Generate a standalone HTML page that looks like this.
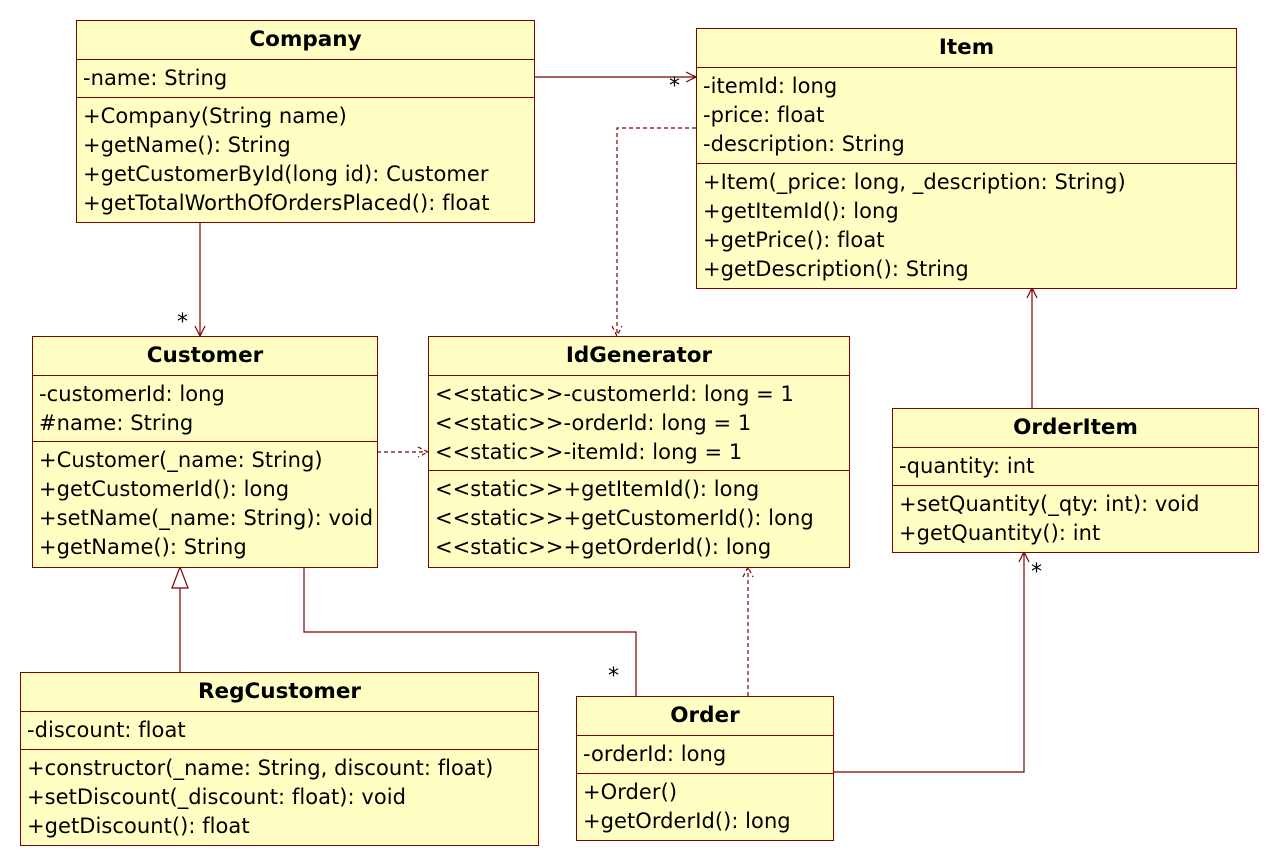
<!DOCTYPE html>
<html><head><meta charset="utf-8"><style>
body{margin:0;width:1279px;height:866px;background:#fff;position:relative;font-family:"DejaVu Sans","Liberation Sans",sans-serif;overflow:hidden}
.b{position:absolute;background:#ffffc4;border:1px solid #800000;box-sizing:border-box}
.h{border-bottom:1px solid #800000;height:38px;line-height:38px;text-align:center;font-weight:bold;font-size:21.5px}
.s{border-bottom:1px solid #800000;padding:0 6px;box-sizing:border-box}
.s:last-child{border-bottom:none}
.s div{height:29px;line-height:29px;font-size:21px;white-space:nowrap;letter-spacing:0.05px}
svg{position:absolute;left:0;top:0}
.st{position:absolute;font-size:22px}
</style></head><body>
<svg width="1279" height="866" fill="none" stroke="#800000" stroke-width="1.2">
<path d="M534 77H696M686 72L696 77L686 82"/>
<path d="M696 128H617V336M612 326L617 336L622 326" stroke-dasharray="4,3"/>
<path d="M200 222V336M195 326L200 336L205 326"/>
<path d="M377 452H428M418 447L428 452L418 457" stroke-dasharray="4,3"/>
<path d="M1032 408V288M1027 298L1032 288L1037 298"/>
<path d="M180 672V588M172 588L180 567L188 588Z"/>
<path d="M304 567V632H636V696"/>
<path d="M748 696V567M743 577L748 567L753 577" stroke-dasharray="4,3"/>
<path d="M833 772H1024V552M1019 562L1024 552L1029 562"/>
</svg>
<div class="st" style="left:669px;top:74px">*</div>
<div class="st" style="left:177px;top:310px">*</div>
<div class="st" style="left:608px;top:664px">*</div>
<div class="st" style="left:1031px;top:560px">*</div>

<div class="b" style="left:76px;top:20px;width:459px;height:203px">
<div class="h">Company</div>
<div class="s" style="height:38px;padding-top:4px"><div>-name: String</div></div>
<div class="s" style="padding-top:4px"><div>+Company(String name)</div><div>+getName(): String</div><div>+getCustomerById(long id): Customer</div><div>+getTotalWorthOfOrdersPlaced(): float</div></div>
</div>

<div class="b" style="left:696px;top:28px;width:541px;height:261px">
<div class="h">Item</div>
<div class="s" style="height:96px;padding-top:4px"><div>-itemId: long</div><div>-price: float</div><div>-description: String</div></div>
<div class="s" style="padding-top:4px"><div>+Item(_price: long, _description: String)</div><div>+getItemId(): long</div><div>+getPrice(): float</div><div>+getDescription(): String</div></div>
</div>

<div class="b" style="left:32px;top:336px;width:346px;height:232px">
<div class="h">Customer</div>
<div class="s" style="height:66px;padding-top:4px"><div>-customerId: long</div><div>#name: String</div></div>
<div class="s" style="padding-top:4px"><div>+Customer(_name: String)</div><div>+getCustomerId(): long</div><div>+setName(_name: String): void</div><div>+getName(): String</div></div>
</div>

<div class="b" style="left:428px;top:336px;width:422px;height:232px">
<div class="h">IdGenerator</div>
<div class="s" style="height:95px;padding-top:4px"><div>&lt;&lt;static&gt;&gt;-customerId: long = 1</div><div>&lt;&lt;static&gt;&gt;-orderId: long = 1</div><div>&lt;&lt;static&gt;&gt;-itemId: long = 1</div></div>
<div class="s" style="padding-top:4px"><div>&lt;&lt;static&gt;&gt;+getItemId(): long</div><div>&lt;&lt;static&gt;&gt;+getCustomerId(): long</div><div>&lt;&lt;static&gt;&gt;+getOrderId(): long</div></div>
</div>

<div class="b" style="left:892px;top:408px;width:367px;height:145px">
<div class="h">OrderItem</div>
<div class="s" style="height:38px;padding-top:4px"><div>-quantity: int</div></div>
<div class="s" style="padding-top:4px"><div>+setQuantity(_qty: int): void</div><div>+getQuantity(): int</div></div>
</div>

<div class="b" style="left:20px;top:672px;width:519px;height:174px">
<div class="h">RegCustomer</div>
<div class="s" style="height:38px;padding-top:4px"><div>-discount: float</div></div>
<div class="s" style="padding-top:4px"><div>+constructor(_name: String, discount: float)</div><div>+setDiscount(_discount: float): void</div><div>+getDiscount(): float</div></div>
</div>

<div class="b" style="left:576px;top:696px;width:258px;height:145px">
<div class="h">Order</div>
<div class="s" style="height:38px;padding-top:4px"><div>-orderId: long</div></div>
<div class="s" style="padding-top:4px"><div>+Order()</div><div>+getOrderId(): long</div></div>
</div>
</body></html>
